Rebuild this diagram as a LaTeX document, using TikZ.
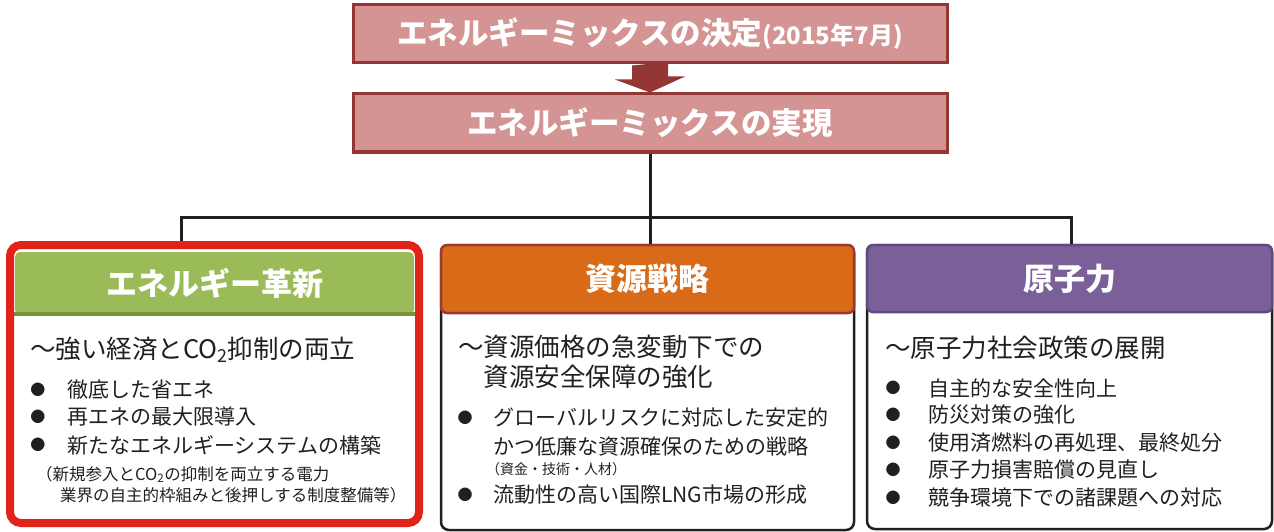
\documentclass[tikz,border=0pt]{standalone}
\usepackage{fontspec}
\setmainfont{Noto Sans CJK JP}
\usetikzlibrary{calc}
\definecolor{pinkf}{HTML}{D49494}
\definecolor{pinkd}{HTML}{943634}
\definecolor{greenf}{HTML}{9BBB59}
\definecolor{greend}{HTML}{76923C}
\definecolor{orangef}{HTML}{D96A17}
\definecolor{oranged}{HTML}{9B3A2E}
\definecolor{purplef}{HTML}{7A5F99}
\definecolor{purpled}{HTML}{5E4A7E}
\definecolor{redf}{HTML}{E2231A}
\definecolor{txt}{HTML}{231F20}
\tikzset{
  topbox/.style={draw=pinkd, line width=3pt, fill=pinkf, minimum width=594pt, minimum height=58pt, text=white, inner sep=0pt, font=\bfseries\fontsize{30.5}{32}\selectfont},
  conn/.style={draw=txt, line width=3pt},
  hdr/.style={rounded corners=6pt, line width=2.5pt, inner sep=0pt, text=white, font=\bfseries\fontsize{31}{34}\selectfont},
  bodybox/.style={draw=txt, line width=2.5pt, rounded corners=8pt, fill=white},
  subt/.style={anchor=west, inner sep=0pt, text=txt, align=left, font=\fontsize{25.5}{30}\selectfont},
  item/.style={anchor=west, inner sep=0pt, text=txt, align=left, font=\fontsize{21}{29}\selectfont},
  note/.style={anchor=west, inner sep=0pt, text=txt, align=left, font=\fontsize{16.5}{21}\selectfont},
  smallnote/.style={anchor=west, inner sep=0pt, text=txt, font=\fontsize{14}{16}\selectfont},
  bul/.style={inner sep=0pt, text=txt, font=\fontsize{15}{15}\selectfont},
}
\begin{document}
\begin{tikzpicture}[x=1pt,y=-1pt]
\useasboundingbox (0,0) rectangle (1274,532);

% top boxes
\node[topbox] (top1) at (650,33.5) {エネルギーミックスの決定{\fontsize{24}{26}\selectfont (2015年7月)}};
\node[topbox] (top2) at (650,123) {エネルギーミックスの実現};

% big arrow
\fill[pinkd] ($(top1.south)+(-18,1.5)$) -- ++(0,14) -- ++(-17,0) -- (top2.north) -- ++(35,-16) -- ++(-17,0) -- ++(0,-14.5) -- cycle;

% bodies
\node[bodybox, minimum width=413pt, minimum height=285pt] (bodyM) at (647.5,387.5) {};
\node[bodybox, minimum width=405pt, minimum height=284pt] (bodyR) at (1069.5,387) {};

% headers
\node[hdr, fill=greenf, rounded corners=5pt, minimum width=399pt, minimum height=63pt] (hdrL) at (214.5,283.5) {エネルギー革新};
\fill[greend] (hdrL.south west) rectangle ($(hdrL.south east)+(0,-4)$);
\node[hdr, fill=orangef, draw=oranged, minimum width=413pt, minimum height=68pt] (hdrM) at (647.5,279) {資源戦略};
\node[hdr, fill=purplef, draw=purpled, minimum width=405pt, minimum height=67pt] (hdrR) at (1069.5,278.5) {原子力};

% red frame
\node[draw=redf, line width=8pt, rounded corners=11pt, minimum width=409pt, minimum height=278pt] (frameL) at (214.5,384) {};

% connectors
\coordinate (j) at (650,217);
\coordinate (jl) at (181,217);
\coordinate (jr) at (1071,217);
\draw[conn] (top2.south) -- (j);
\draw[conn] (jl |- frameL.north) -- (jl) -- (jr) -- (jr |- hdrR.north);
\draw[conn] (j) -- (j |- hdrM.north);

% left texts
\node[subt] (l0) at (30,350) {～強い経済とCO\textsubscript{2}抑制の両立};
\node[bul] (lb1) at (38,390) {●};
\node[item] (l1) at (67,390) {徹底した省エネ};
\node[bul] (lb2) at (38,417) {●};
\node[item] (l2) at (67,417) {再エネの最大限導入};
\node[bul] (lb3) at (38,445) {●};
\node[item] (l3) at (67,445) {新たなエネルギーシステムの構築};
\node[note] (l4) at (36,484.5) {（新規参入とCO\textsubscript{2}の抑制を両立する電力\\\hspace*{1.45em}業界の自主的枠組みと後押しする制度整備等）};

% middle texts
\node[subt] (m0) at (458,362) {～資源価格の急変動下での\\\hspace*{1em}資源安全保障の強化};
\node[bul] (mb1) at (465,418) {●};
\node[item] (m1) at (493,432.5) {グローバルリスクに対応した安定的\\かつ低廉な資源確保のための戦略};
\node[smallnote] (m2) at (486,469) {（資金・技術・人材）};
\node[bul] (mb2) at (465,495) {●};
\node[item] (m3) at (493,495) {流動性の高い国際LNG市場の形成};

% right texts
\node[subt] (r0) at (885,348) {～原子力社会政策の展開};
\node[bul] (rb1) at (893,388) {●};
\node[item] (r1) at (928,388) {自主的な安全性向上};
\node[bul] (rb2) at (893,415) {●};
\node[item] (r2) at (928,415) {防災対策の強化};
\node[bul] (rb3) at (893,443) {●};
\node[item] (r3) at (928,443) {使用済燃料の再処理、最終処分};
\node[bul] (rb4) at (893,470) {●};
\node[item] (r4) at (928,470) {原子力損害賠償の見直し};
\node[bul] (rb5) at (893,498) {●};
\node[item] (r5) at (928,498) {競争環境下での諸課題への対応};
\end{tikzpicture}
\end{document}
